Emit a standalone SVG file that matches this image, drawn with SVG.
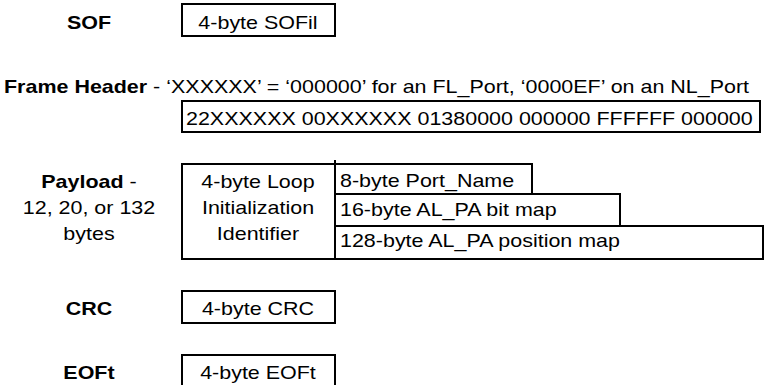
<svg xmlns="http://www.w3.org/2000/svg" width="766" height="385" viewBox="0 0 766 385">
  <style>
    text { font-family: "Liberation Sans", Arial, Helvetica, sans-serif; font-size: 19px; fill: #000;
           transform-box: fill-box; transform-origin: left center; transform: scaleX(1.13); }
    .lbl { font-weight: bold; text-anchor: middle; transform-origin: center; }
    .mid { text-anchor: middle; transform-origin: center; }
    .box { fill: #fff; stroke: #000; stroke-width: 2; }
    .b { font-weight: bold; }
  </style>
  <rect width="766" height="385" fill="#fff"/>

  <!-- Start of frame -->
  <g id="sof">
    <text class="lbl" x="89" y="29">SOF</text>
    <rect class="box" x="182" y="4" width="153" height="32"/>
    <text class="mid" x="258" y="29">4-byte SOFil</text>
  </g>

  <!-- Frame header -->
  <g id="frame-header">
    <text x="4" y="93"><tspan class="b">Frame Header</tspan> - ‘XXXXXX’ = ‘000000’ for an FL_Port, ‘0000EF’ on an NL_Port</text>
    <rect class="box" x="182" y="101" width="578" height="31"/>
    <text x="186" y="125">22XXXXXX 00XXXXXX 01380000 000000 FFFFFF 000000</text>
  </g>

  <!-- Payload -->
  <g id="payload">
    <text class="mid" x="89" y="188"><tspan class="b">Payload</tspan> -</text>
    <text class="mid" x="89" y="214">12, 20, or 132</text>
    <text class="mid" x="89" y="240">bytes</text>
    <rect class="box" x="182" y="164" width="153" height="95"/>
    <text class="mid" x="258" y="188">4-byte Loop</text>
    <text class="mid" x="258" y="214">Initialization</text>
    <text class="mid" x="258" y="240">Identifier</text>
    <line x1="335" y1="160" x2="335" y2="164" stroke="#000" stroke-width="2"/>
    <rect class="box" x="335" y="164" width="197" height="30"/>
    <text x="340" y="187">8-byte Port_Name</text>
    <rect class="box" x="335" y="194" width="285" height="32"/>
    <text x="340" y="216">16-byte AL_PA bit map</text>
    <rect class="box" x="335" y="226" width="428" height="33"/>
    <text x="340" y="247">128-byte AL_PA position map</text>
  </g>

  <!-- CRC -->
  <g id="crc">
    <text class="lbl" x="89" y="315">CRC</text>
    <rect class="box" x="182" y="291" width="153" height="32"/>
    <text class="mid" x="258" y="315">4-byte CRC</text>
  </g>

  <!-- End of frame -->
  <g id="eof">
    <text class="lbl" x="89" y="379">EOFt</text>
    <rect class="box" x="182" y="355" width="153" height="40"/>
    <text class="mid" x="258" y="379">4-byte EOFt</text>
  </g>
</svg>
